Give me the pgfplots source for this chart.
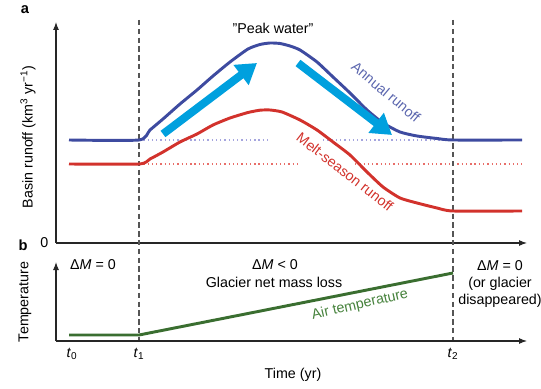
\documentclass[border=0pt]{standalone}
\usepackage{pgfplots}
\pgfplotsset{compat=1.18}
\usepackage{fontspec}
\setmainfont{Liberation Sans}
\usetikzlibrary{arrows.meta}
\definecolor{cblue}{RGB}{62,75,160}
\definecolor{cred}{RGB}{210,50,44}
\definecolor{cgreen}{RGB}{58,110,48}
\definecolor{cgreentxt}{RGB}{70,130,60}
\definecolor{ccyan}{RGB}{0,160,222}
\definecolor{cdotb}{RGB}{165,165,222}
\definecolor{cdotr}{RGB}{232,110,105}
\definecolor{cdash}{RGB}{85,85,85}
\begin{document}
\fontsize{10.7pt}{13pt}\selectfont
\begin{tikzpicture}
\useasboundingbox (0,0) rectangle (405.75pt,291pt);
\pgfplotsset{myax/.style={
  anchor=south west, x=0.75pt, y=0.75pt, axis lines=left, clip=false,
  xmin=56, xmax=527, major tick length=0pt,
  axis line style={line width=0.8pt, black!85, -{Latex[length=6pt,width=4.5pt]}},
  tick label style={font=\fontsize{10.7pt}{13pt}\selectfont},
}}
% ---------------- panel a ----------------
\begin{axis}[myax, at={(42pt,108.75pt)}, ymin=145, ymax=366,
  xtick=\empty, ytick={145}, yticklabels={0},
  yticklabel style={xshift=-2pt}]
% dotted reference levels
\addplot[cdotb, line width=0.9pt, dash pattern=on 1pt off 2.2pt] coordinates {(139,248) (268,248)};
\addplot[cdotb, line width=0.9pt, dash pattern=on 1pt off 2.2pt] coordinates {(323,248) (453,248)};
\addplot[cdotr, line width=0.8pt, dash pattern=on 1pt off 2.2pt] coordinates {(139,224) (298,224)};
\addplot[cdotr, line width=0.8pt, dash pattern=on 1pt off 2.2pt] coordinates {(355,224) (522,224)};
% dashed vertical lines t1, t2
\addplot[cdash, line width=1pt, dash pattern=on 4pt off 2.6pt] coordinates {(139,368) (139,43)};
\addplot[cdash, line width=1pt, dash pattern=on 4pt off 2.6pt] coordinates {(453,368) (453,43)};
% annual runoff
\addplot[cblue, line width=2.2pt, smooth, tension=0.35] coordinates {
(69,248) (139,248) (150,258) (163,269) (180,284) (197,298) (213,312) (230,326)
(248,339) (260,343.5) (270,345) (280,344.5) (290,342) (300,338) (317,326) (333,311) (350,295)
(367,278) (383,265) (400,256) (417,252) (437,249.5) (453,248) (522,248)};
% melt-season runoff
\addplot[cred, line width=2.2pt, smooth, tension=0.35] coordinates {
(69,224) (139,224) (150,229) (163,236) (180,246) (197,254) (213,263) (230,270)
(248,275.5) (260,277.8) (270,278) (282,276) (300,268) (317,258) (333,246) (350,233)
(367,216) (383,201) (400,190) (417,185) (437,180) (453,177) (522,177)};
% cyan arrows
\addplot[ccyan, line width=6pt, -{Triangle[length=15pt,width=18pt]}] coordinates {(163,254) (257,325)};
\addplot[ccyan, line width=6pt, -{Triangle[length=15pt,width=18pt]}] coordinates {(298,325) (392,253)};
% texts
\node at (axis cs:273,360) {\symbol{34}Peak water\symbol{34}};
\node[cblue!85!white, rotate=-40] at (axis cs:386,296) {Annual runoff};
\node[cred, rotate=-38] at (axis cs:345,216) {Melt-season runoff};
\node[rotate=90] at (axis cs:28,251) {Basin runoff (km\textsuperscript{3} yr\textsuperscript{−1})};
\node[font=\fontsize{11pt}{13pt}\selectfont\bfseries] at (axis cs:25,378) {a};
\end{axis}
% ---------------- panel b ----------------
\begin{axis}[myax, at={(42pt,35.25pt)}, ymin=47, ymax=126,
  ytick=\empty, xtick={72,139,453},
  xticklabels={\textit{t}\textsubscript{0},\textit{t}\textsubscript{1},\textit{t}\textsubscript{2}},
  xticklabel style={yshift=-1.5pt}]
\addplot[cgreen, line width=2.2pt] coordinates {(69,53) (139,53) (453,115)};
\node[cgreentxt, rotate=13] at (axis cs:360,83) {Air temperature};
\node at (axis cs:93,123) {Δ\textit{M} = 0};
\node at (axis cs:275,123) {Δ\textit{M} < 0};
\node at (axis cs:274,106) {Glacier net mass loss};
\node[align=center, inner sep=0pt] at (axis cs:500,104) {Δ\textit{M} = 0\\[-0.5pt](or glacier\\[-0.5pt]disappeared)};
\node[rotate=90] at (axis cs:25,86) {Temperature};
\node at (axis cs:293,13) {Time (yr)};
\node[font=\fontsize{11pt}{13pt}\selectfont\bfseries] at (axis cs:23,143) {b};
\end{axis}
\end{tikzpicture}
\end{document}
